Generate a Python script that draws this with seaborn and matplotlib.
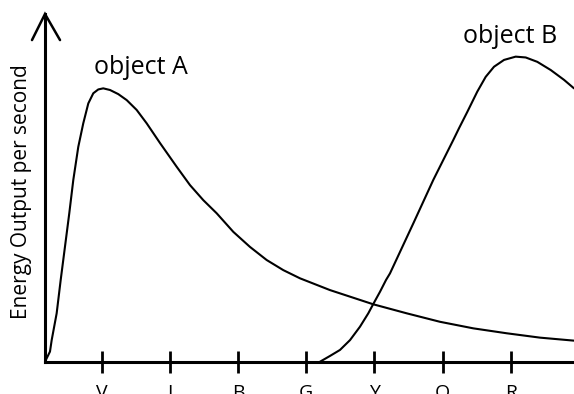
import numpy as np
import pandas as pd
import matplotlib
matplotlib.use("Agg")
import matplotlib.pyplot as plt
import seaborn as sns

# colour bands along the x axis (tick at 1..7)
bands = ["V", "I", "B", "G", "Y", "O", "R"]
band_pos = [1, 2, 3, 4, 5, 6, 7]

# object A (x in band units, y relative to A's peak = 100)
a_x = [0.169, 0.242, 0.267, 0.340, 0.399, 0.462, 0.525, 0.584, 0.657, 0.730,
       0.804, 0.877, 0.950, 1.023, 1.122, 1.243, 1.367, 1.513, 1.660, 1.855,
       2.100, 2.295, 2.490, 2.686, 2.930, 3.174, 3.419, 3.663, 3.908, 4.347,
       4.982, 5.472, 5.960, 6.449, 6.938, 7.427, 7.925]
a_y = [0.0, 3.7, 7.9, 17.7, 29.9, 42.1, 54.3, 66.5, 78.6, 87.2,
       94.5, 98.2, 99.6, 100.0, 99.4, 97.9, 95.7, 92.1, 87.2, 80.0,
       71.3, 64.6, 59.1, 54.3, 47.5, 42.0, 37.2, 33.5, 30.5, 26.2,
       21.0, 17.7, 14.6, 12.2, 10.4, 8.8, 7.7]

# object B
b_x = [4.201, 4.347, 4.494, 4.641, 4.787, 4.909, 4.982, 5.081, 5.169, 5.227,
       5.569, 5.862, 6.155, 6.239, 6.361, 6.507, 6.630, 6.752, 6.899, 7.070,
       7.217, 7.387, 7.584, 7.779, 7.925]
b_y = [0.0, 2.1, 4.3, 7.9, 12.8, 17.7, 21.1, 25.6, 29.9, 32.3,
       50.6, 66.5, 81.1, 85.4, 91.4, 98.8, 104.2, 107.9, 110.4, 111.6,
       111.3, 109.7, 106.7, 103.1, 100.0]

df_a = pd.DataFrame({"x": a_x, "y": a_y})
df_b = pd.DataFrame({"x": b_x, "y": b_y})

sns.set_theme(style="white")
plt.rcParams['font.family'] = ['Open Sans', 'DejaVu Sans']
plt.rcParams['text.color'] = 'black'
plt.rcParams['axes.labelcolor'] = 'black'
plt.rcParams['xtick.color'] = 'black'

fig = plt.figure(figsize=(5.74, 3.94), dpi=100)
ax = fig.add_axes([45/574, (394-361.7)/394, (574-45)/574, (361.7-14)/394])

sns.lineplot(data=df_a, x="x", y="y", color="black", lw=1.5, estimator=None, sort=False, ax=ax)
sns.lineplot(data=df_b, x="x", y="y", color="black", lw=1.5, estimator=None, sort=False, ax=ax)

ax.set_xlim(0.169, 7.925)
ax.set_ylim(0, 127.2)

for s in ["top", "right"]:
    ax.spines[s].set_visible(False)
for s in ["left", "bottom"]:
    ax.spines[s].set_color("black")
    ax.spines[s].set_linewidth(2.2)

ax.set_xticks(band_pos)
ax.set_xticklabels(bands, fontsize=14)
ax.set_yticks([])
ax.tick_params(axis="x", direction="inout", length=16, width=2, color="black", pad=8, bottom=True)
ax.set_xlabel("")

ax.set_ylabel("Energy Output per second", fontsize=15, color="black")
ax.yaxis.set_label_coords(-(45-32)/529, (361.7-192)/347.7)

# arrow head on the y axis
ax.plot([-0.0246, 0, 0.0284], [0.925, 1.0, 0.925], color="black", lw=1.8,
        transform=ax.transAxes, clip_on=False, solid_joinstyle="miter")

ax.text(0.887, 105.2, "object A", fontsize=18, va="baseline", ha="left", color="black")
ax.text(6.297, 116.7, "object B", fontsize=18, va="baseline", ha="left", color="black")

fig.savefig("out.png", dpi=100)
